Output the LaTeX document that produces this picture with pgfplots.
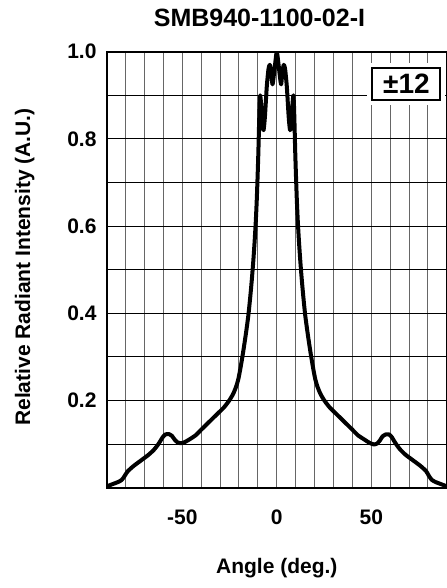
\documentclass[border=0pt]{standalone}
\usepackage{fontspec}
\setmainfont{Liberation Sans}
\usepackage{pgfplots}
\pgfplotsset{compat=1.18}
\usetikzlibrary{calc}

\pgfplotstableread{
x y
-90 0.003
-87 0.008
-84 0.013
-82 0.018
-80.5 0.027
-79 0.037
-76 0.049
-72 0.062
-68 0.075
-65 0.087
-62.5 0.101
-60.5 0.115
-59 0.122
-57 0.123
-55.5 0.119
-54 0.110
-52.5 0.104
-51 0.102
-49 0.104
-46.5 0.110
-43 0.120
-40 0.133
-36 0.150
-32 0.167
-28 0.184
-25 0.201
-23 0.216
-21.5 0.232
-20.3 0.250
-19.2 0.275
-18.1 0.303
-17 0.334
-16 0.364
-15 0.397
-14.1 0.435
-13.2 0.478
-12.4 0.522
-11.7 0.567
-11.1 0.612
-10.6 0.660
-10.15 0.715
-9.75 0.770
-9.4 0.830
-9.1 0.875
-8.8 0.90
-8.3 0.88
-7.5 0.83
-7.0 0.82
-6.3 0.85
-5.3 0.92
-4.4 0.96
-3.7 0.97
-3.0 0.955
-2.3 0.925
-1.6 0.945
-0.8 0.975
0 1.0
0.8 0.975
1.6 0.945
2.3 0.925
3.0 0.955
3.7 0.97
4.4 0.96
5.3 0.92
6.3 0.85
7.0 0.82
7.5 0.83
8.3 0.88
8.8 0.90
9.1 0.875
9.4 0.830
9.75 0.770
10.15 0.715
10.6 0.660
11.1 0.612
11.7 0.567
12.4 0.522
13.2 0.478
14.1 0.435
15 0.397
16 0.364
17 0.334
18.1 0.303
19.2 0.275
20.3 0.250
21.5 0.232
23 0.216
25 0.201
28 0.184
32 0.167
36 0.150
40 0.133
43 0.120
46.5 0.110
49 0.103
51.5 0.099
53 0.101
54.5 0.108
56 0.118
57.5 0.122
59.5 0.122
61 0.115
62.5 0.104
65 0.089
68 0.076
72 0.063
76 0.050
79 0.038
80.5 0.027
82 0.018
84 0.013
87 0.008
90 0.003
}\curve

\begin{document}
\begin{tikzpicture}
\begin{axis}[
  name=ax,
  scale only axis,
  width=170.1pt,
  height=218pt,
  xmin=-90, xmax=90,
  ymin=0, ymax=1,
  xtick={-50,0,50},
  minor xtick={-90,-80,...,90},
  ytick={0.2,0.4,0.6,0.8,1.0},
  minor ytick={0,0.1,...,1.0},
  yticklabel style={/pgf/number format/fixed, /pgf/number format/fixed zerofill, /pgf/number format/precision=1},
  /pgf/number format/assume math mode=true,
  grid=both,
  x grid style={black!60, line width=0.5pt},
  y grid style={black, line width=0.5pt},
  major tick length=0pt, minor tick length=0pt,
  axis line style={line width=1pt},
  tick label style={font=\fontsize{10.5}{12}\selectfont\bfseries},
  every x tick label/.append style={anchor=center, yshift=-14.7pt},
  every y tick label/.append style={anchor=east, inner sep=0pt, xshift=-4.9pt},
  title={SMB940-1100-02-I},
  every axis title/.style={font=\fontsize{12.5}{14}\selectfont\bfseries, at={(axis description cs:0.449,1)}, anchor=center, yshift=16.9pt},
  xlabel={Angle (deg.)},
  every axis x label/.style={font=\fontsize{10.5}{12}\selectfont\bfseries, at={(axis description cs:0.5,0)}, anchor=center, yshift=-40pt},
  ylabel={Relative Radiant Intensity (A.U.)},
  every axis y label/.style={font=\fontsize{10.5}{12}\selectfont\bfseries, at={(axis description cs:0,0.506)}, anchor=center, rotate=90, yshift=41pt},
]
\addplot[black, line width=2pt, line cap=round, line join=round, smooth, tension=0.4] table {\curve};
\node[draw=black, fill=white, line width=1pt, preaction={draw=white, line width=5pt},
      minimum width=34pt, minimum height=16pt, inner sep=0pt,
      font=\fontsize{14}{15}\selectfont\bfseries] at (axis cs:68.6,0.9255) {±12};
\end{axis}
\pgfresetboundingbox
\useasboundingbox ($(ax.south west)+(-53.35pt,-50.15pt)$) rectangle ($(ax.south west)+(169.65pt,243.85pt)$);
\end{tikzpicture}
\end{document}
